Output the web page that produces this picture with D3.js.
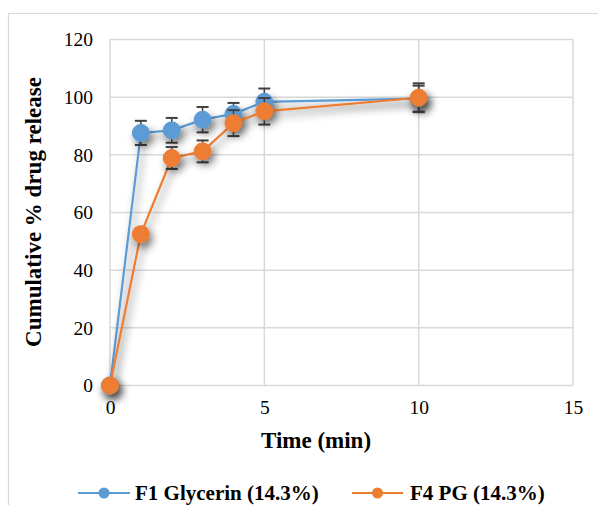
<!DOCTYPE html>
<html><head><meta charset="utf-8">
<script src="https://cdn.jsdelivr.net/npm/d3@7"></script>
<style>html,body{margin:0;padding:0;background:#fff;}svg{display:block;}
text{font-family:'Liberation Serif','Times New Roman',serif;}</style>
</head><body>
<svg id="chart" width="598" height="505"></svg>
<script>
const times = [0, 1, 2, 3, 4, 5, 10];
const f1Values = [0, 87.6, 88.5, 92.2, 94.2, 98.4, 99.5];
const f1Errors = [0, 4.2, 4.3, 4.4, 3.8, 4.6, 4.5];
const f4Values = [0, 52.5, 78.9, 81.2, 91.0, 95.1, 99.8];
const f4Errors = [0, 2.0, 3.8, 3.8, 4.5, 4.6, 5.0];
const xTicks = [0, 5, 10, 15];
const yTicks = [0, 20, 40, 60, 80, 100, 120];
const seriesNames = ["F1 Glycerin (14.3%)", "F4 PG (14.3%)"];
const seriesColors = ["#5B9BD5", "#ED7D31"];
const xTitle = "Time (min)";
const yTitle = "Cumulative % drug release";

const svg = d3.select("#chart");
const font = "'Liberation Serif','Times New Roman',serif";

const defs = svg.append("defs");
const f = defs.append("filter").attr("id", "shadow")
  .attr("filterUnits", "userSpaceOnUse").attr("x", 0).attr("y", 0).attr("width", 598).attr("height", 505);
f.append("feGaussianBlur").attr("in", "SourceAlpha").attr("stdDeviation", 4.5);
f.append("feOffset").attr("dx", 3).attr("dy", 5).attr("result", "off");
const ct = f.append("feComponentTransfer").attr("in", "off").attr("result", "sh");
ct.append("feFuncA").attr("type", "linear").attr("slope", 0.5);
const fm = f.append("feMerge");
fm.append("feMergeNode").attr("in", "sh");
fm.append("feMergeNode").attr("in", "SourceGraphic");

// outer chart border
svg.append("rect").attr("x", 8.5).attr("y", 13.5).attr("width", 620).attr("height", 520)
  .attr("fill", "#fff").attr("stroke", "#d9d9d9").attr("stroke-width", 1.2);

const x = d3.scaleLinear().domain([0, 15]).range([110, 573]);
const y = d3.scaleLinear().domain([0, 120]).range([385.5, 39.5]);

// gridlines
const grid = svg.append("g");
grid.selectAll("line.h").data(yTicks).join("line")
  .attr("x1", x(0)).attr("x2", x(15)).attr("y1", d => y(d)).attr("y2", d => y(d))
  .attr("stroke", "#d9d9d9").attr("stroke-width", 1.5);
grid.selectAll("line.v").data(xTicks).join("line")
  .attr("y1", y(0)).attr("y2", y(120)).attr("x1", d => x(d)).attr("x2", d => x(d))
  .attr("stroke", "#d9d9d9").attr("stroke-width", 1.5);

// axes (text only)
const yAxis = svg.append("g").attr("transform", `translate(${x(0) - 17},0)`)
  .call(d3.axisLeft(y).tickValues(yTicks).tickSize(0).tickPadding(0));
yAxis.attr("font-family", null).attr("font-size", null);
yAxis.select(".domain").remove();
yAxis.selectAll("text").style("font-family", font).style("font-size", "19.5px").attr("fill", "#000");

const xAxis = svg.append("g").attr("transform", `translate(0,${y(0) + 15})`)
  .call(d3.axisBottom(x).tickValues(xTicks).tickSize(0).tickPadding(0));
xAxis.attr("font-family", null).attr("font-size", null);
xAxis.select(".domain").remove();
xAxis.selectAll("text").style("font-family", font).style("font-size", "19.5px").attr("fill", "#000");

// titles
svg.append("text").attr("x", 316).attr("y", 448).attr("text-anchor", "middle")
  .style("font-family", font).attr("font-weight", "bold").attr("font-size", 23).text(xTitle);
svg.append("text").attr("transform", `translate(41,${212}) rotate(-90)`).attr("text-anchor", "middle")
  .style("font-family", font).attr("font-weight", "bold").attr("font-size", 23).text(yTitle);

// series
const allSeries = [
  { name: seriesNames[0], color: seriesColors[0], values: f1Values, errors: f1Errors },
  { name: seriesNames[1], color: seriesColors[1], values: f4Values, errors: f4Errors }
];
const line = d3.line().x(d => x(d.t)).y(d => y(d.v));

allSeries.forEach(s => {
  const pts = times.map((t, i) => ({ t, v: s.values[i], e: s.errors[i] }));
  const g = svg.append("g").attr("filter", "url(#shadow)");
  g.append("path").datum(pts).attr("d", line).attr("fill", "none")
    .attr("stroke", s.color).attr("stroke-width", 2.2);
  const eb = svg.append("g");
  pts.filter(p => p.e > 0).forEach(p => {
    eb.append("line").attr("x1", x(p.t)).attr("x2", x(p.t))
      .attr("y1", y(p.v + p.e)).attr("y2", y(p.v - p.e))
      .attr("stroke", "#404040").attr("stroke-width", 1.5);
    [p.v + p.e, p.v - p.e].forEach(v => {
      eb.append("line").attr("x1", x(p.t) - 6).attr("x2", x(p.t) + 6)
        .attr("y1", y(v)).attr("y2", y(v))
        .attr("stroke", "#404040").attr("stroke-width", 2);
    });
  });
  const mg = svg.append("g").attr("filter", "url(#shadow)");
  mg.selectAll("circle").data(pts).join("circle")
    .attr("cx", d => x(d.t)).attr("cy", d => y(d.v)).attr("r", 8.5)
    .attr("fill", s.color).attr("stroke", s.color).attr("stroke-width", 1);
});

// legend
const legendItems = [
  { name: seriesNames[0], color: seriesColors[0], x1: 78, x2: 130, tx: 135 },
  { name: seriesNames[1], color: seriesColors[1], x1: 352, x2: 403, tx: 410 }
];
legendItems.forEach(it => {
  svg.append("line").attr("x1", it.x1).attr("x2", it.x2).attr("y1", 493).attr("y2", 493)
    .attr("stroke", it.color).attr("stroke-width", 2.2);
  svg.append("circle").attr("cx", (it.x1 + it.x2) / 2).attr("cy", 493).attr("r", 5.5).attr("fill", it.color);
  svg.append("text").attr("x", it.tx).attr("y", 500).style("font-family", font)
    .attr("font-weight", "bold").attr("font-size", 21).text(it.name);
});
</script>
</body></html>
